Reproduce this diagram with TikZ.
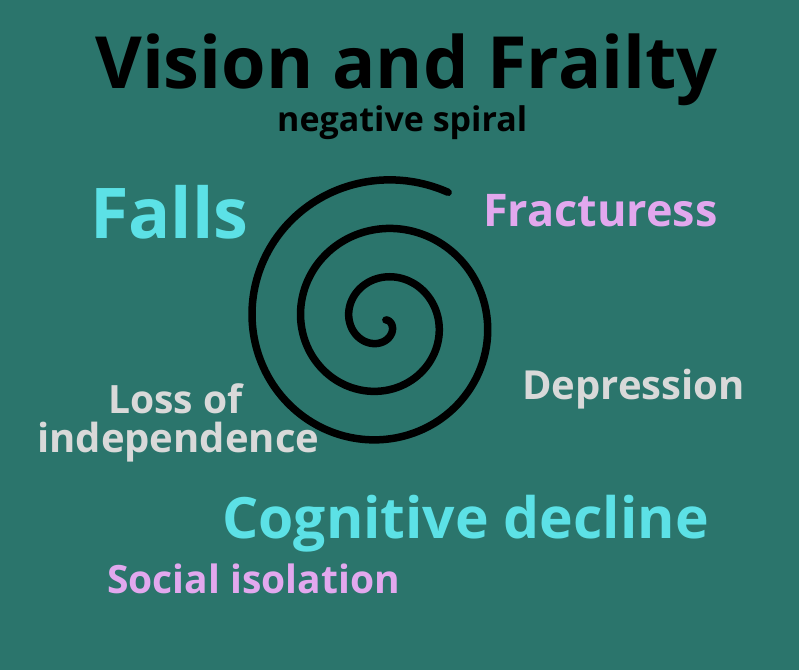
\documentclass[tikz,border=0pt]{standalone}
\usepackage{fontspec}
\setmainfont{Open Sans}
\usetikzlibrary{positioning}
\definecolor{bgteal}{HTML}{2B756C}
\definecolor{cyanw}{HTML}{5CE1E6}
\definecolor{pinkw}{HTML}{E2A8EE}
\definecolor{greyw}{HTML}{D9D9D9}
\tikzset{
  word/.style={font=\bfseries, inner sep=0pt, anchor=base west},
}
\begin{document}
\begin{tikzpicture}[x=1pt,y=-1pt]
    \fill[bgteal] (0,0) rectangle (799,670);
    \useasboundingbox (0,0) rectangle (799,670);
    \node[word, font=\bfseries\fontsize{72}{72}\selectfont] (title) at (95,88) {Vision and Frailty};
    \node[word, font=\bfseries\fontsize{34}{34}\selectfont] (sub) at (277,131) {negative spiral};
    \node[word, text=cyanw, font=\bfseries\fontsize{70}{70}\selectfont] (falls) at (90,238) {Falls};
    \node[word, text=pinkw, font=\bfseries\fontsize{45}{45}\selectfont] (fract) at (483,226) {Fracturess};
    \node[word, text=greyw, font=\bfseries\fontsize{40}{40}\selectfont] (depr) at (522,399) {Depression};
    \node[word, text=greyw, font=\bfseries\fontsize{39}{39}\selectfont] (loss) at (108,413) {Loss of};
    \node[word, text=greyw, font=\bfseries\fontsize{40}{40}\selectfont] (indep) at (37,452) {independence};
    \node[word, text=cyanw, font=\bfseries\fontsize{57}{57}\selectfont] (cogn) at (222,538) {Cognitive decline};
    \node[word, text=pinkw, font=\bfseries\fontsize{39}{39}\selectfont] (soc) at (107,593) {Social isolation};
    % spiral
    \draw[line width=7.5pt, line cap=round, black, x=1pt, y=1pt]
        plot[domain=0.03:1, samples=300, smooth]
        ({382+146*\x*cos(60+1080*(1-\x))}, {-322+146*\x*sin(60+1080*(1-\x))});
\end{tikzpicture}
\end{document}
